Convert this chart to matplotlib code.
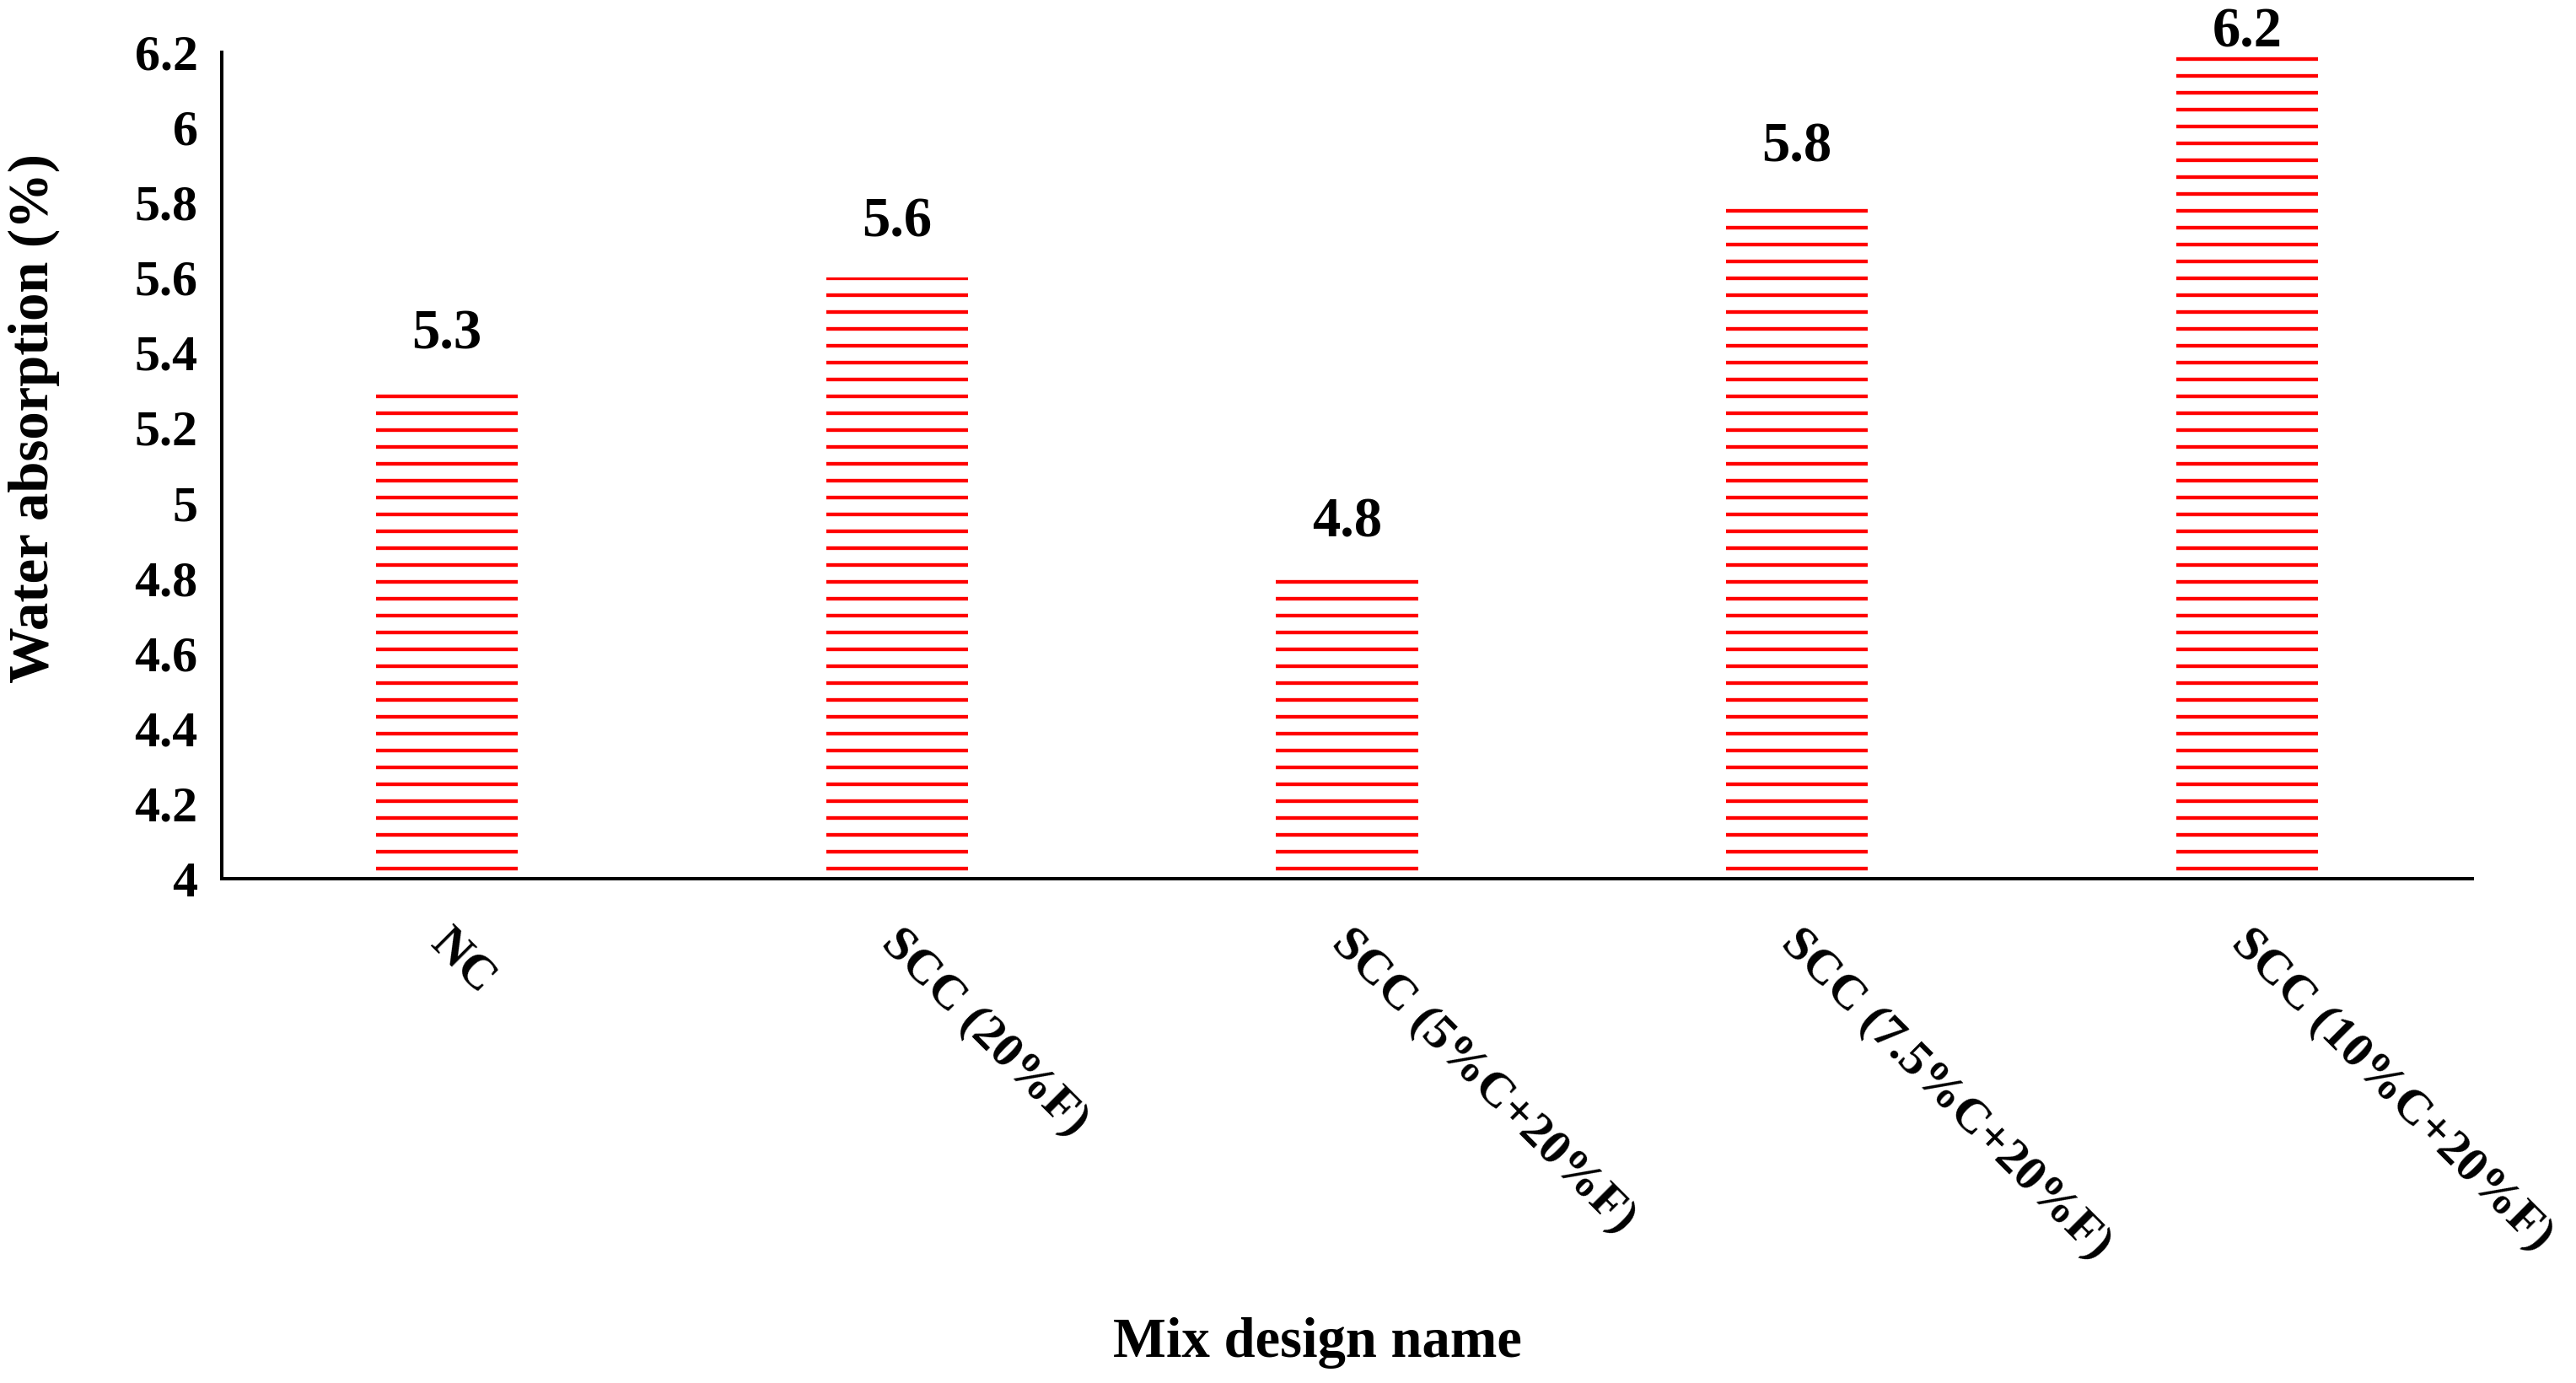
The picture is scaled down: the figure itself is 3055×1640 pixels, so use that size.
import matplotlib
matplotlib.use("Agg")
import matplotlib.pyplot as plt
import matplotlib.transforms as mtransforms
import numpy as np

CATEGORIES = ["NC", "SCC (20%F)", "SCC (5%C+20%F)", "SCC (7.5%C+20%F)", "SCC (10%C+20%F)"]
ABSORPTION = [5.3, 5.6, 4.8, 5.8, 6.2]
Y_TICKS = [4, 4.2, 4.4, 4.6, 4.8, 5, 5.2, 5.4, 5.6, 5.8, 6, 6.2]

DPI = 120
plt.rcParams["font.family"] = ["Liberation Serif", "DejaVu Serif"]
plt.rcParams["font.weight"] = "bold"
plt.rcParams["hatch.linewidth"] = 2.6

fig = plt.figure(figsize=(3055 / DPI, 1640 / DPI), dpi=DPI)
ax = fig.add_axes([0.0861, 0.3646, 0.8736, 0.5976])

x = np.arange(len(CATEGORIES))
BASE = 4.0
heights = [v - BASE for v in ABSORPTION]
ax.bar(x, heights, bottom=BASE, width=0.315, facecolor="white",
       edgecolor="#ff0000", linewidth=0, hatch="-")

# value labels (the top one is pushed down to stay in the frame, like the original)
for xi, v in zip(x, ABSORPTION):
    ax.text(xi, min(v + 0.11, 6.215), f"{v:g}", ha="center", va="baseline",
            fontsize=40, fontweight="bold", clip_on=False)

ax.set_xlim(-0.5, len(CATEGORIES) - 0.5)
ax.set_ylim(4, 6.2)
ax.set_yticks(Y_TICKS)
ax.set_yticklabels([f"{t:g}" for t in Y_TICKS], fontsize=36, fontweight="bold")
ax.set_xticks(x)
ax.set_xticklabels(CATEGORIES, fontsize=35, fontweight="bold", rotation=-45,
                   ha="left", va="top", rotation_mode="anchor")
ax.tick_params(axis="y", length=0, pad=17)
ax.tick_params(axis="x", length=0, pad=30)

shift = mtransforms.ScaledTranslation(8 / DPI, 0, fig.dpi_scale_trans)
for lab in ax.get_xticklabels():
    lab.set_transform(lab.get_transform() + shift)

for side in ["top", "right"]:
    ax.spines[side].set_visible(False)
for side in ["left", "bottom"]:
    ax.spines[side].set_linewidth(2.4)
    ax.spines[side].set_color("black")

ax.set_ylabel("Water absorption (%)", fontsize=40, fontweight="bold")
ax.yaxis.set_label_coords(-0.072, 0.557)
fig.text(0.5115, 0.029, "Mix design name", ha="center", va="center",
         fontsize=40, fontweight="bold")

fig.savefig("out.png", dpi=DPI, facecolor="white")
